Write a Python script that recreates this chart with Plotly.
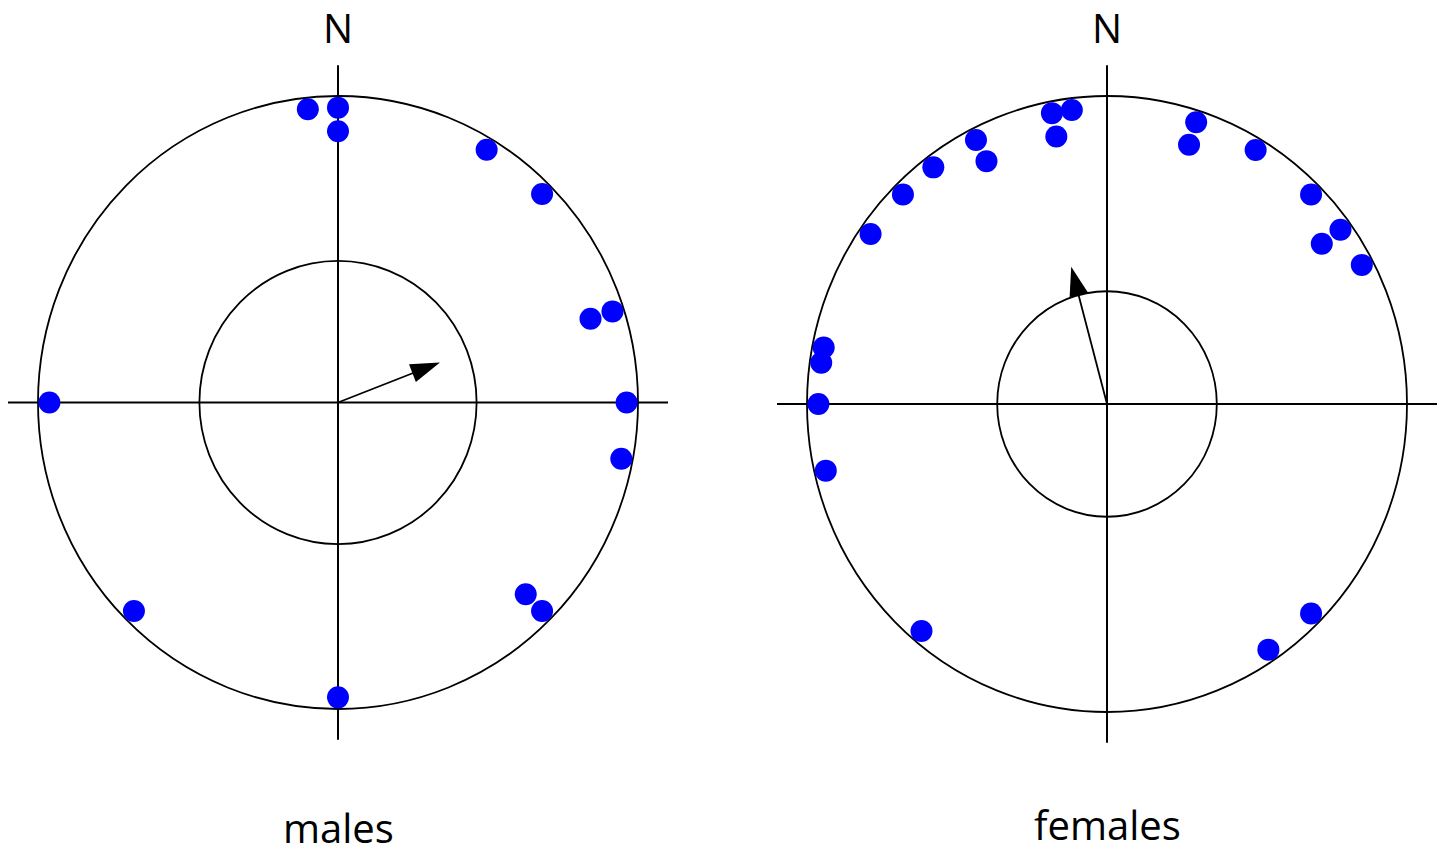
import numpy as np
import plotly.graph_objects as go

W, H = 1445, 856

# ---------------- data ----------------
panel_titles = ["males", "females"]
north_label = "N"

male_bearing = [354, 0, 0, 31, 45, 72, 72, 90, 101, 135, 135, 180, 225, 270]
male_radius = [0.962, 0.962, 0.885, 0.962, 0.962, 0.885, 0.962, 0.962, 0.962,
               0.885, 0.962, 0.962, 0.962, 0.962]
male_mean_bearing = 69
male_mean_length = 0.364
male_crit_radius = 0.462

female_bearing = [349, 353, 349, 333, 333, 323, 315, 305, 281, 278, 270, 257,
                  220, 146, 135, 62, 54, 54, 45, 31, 18, 18]
female_radius = [0.962, 0.962, 0.885, 0.962, 0.885, 0.962, 0.962, 0.962, 0.962,
                 0.962, 0.962, 0.962, 0.962, 0.962, 0.962, 0.962, 0.962, 0.885,
                 0.962, 0.962, 0.962, 0.885]
female_mean_bearing = 345
female_mean_length = 0.461
female_crit_radius = 0.366

outer_radius = 1.0
axis_extent = 1.1

# ---------------- layout geometry (pixels) ----------------
panels = [
    dict(cx=338, cy=402.5, sx=300, sy=306.5, xa="x", ya="y",
         bearing=male_bearing, radius=male_radius,
         mb=male_mean_bearing, ml=male_mean_length, crit=male_crit_radius),
    dict(cx=1107, cy=404, sx=300, sy=308, xa="x2", ya="y2",
         bearing=female_bearing, radius=female_radius,
         mb=female_mean_bearing, ml=female_mean_length, crit=female_crit_radius),
]
XR, YR = 1.12, 1.2

fig = go.Figure()
shapes = []
axes_layout = {}

for i, p in enumerate(panels):
    b = np.deg2rad(np.array(p["bearing"], dtype=float))
    r = np.array(p["radius"], dtype=float)
    fig.add_trace(go.Scatter(
        x=r * np.sin(b), y=r * np.cos(b), mode="markers",
        marker=dict(size=22, color="#0000FF", line=dict(width=0)),
        xaxis=p["xa"], yaxis=p["ya"], showlegend=False, hoverinfo="skip"))
    mb = np.deg2rad(p["mb"])
    tipx, tipy = p["ml"] * np.sin(mb), p["ml"] * np.cos(mb)
    fig.add_trace(go.Scatter(
        x=[0, tipx * 0.9], y=[0, tipy * 0.9], mode="lines",
        line=dict(color="black", width=1.8),
        xaxis=p["xa"], yaxis=p["ya"], showlegend=False, hoverinfo="skip"))
    fig.add_trace(go.Scatter(
        x=[tipx], y=[tipy], mode="markers",
        marker=dict(symbol="arrow", size=31, angle=p["mb"], color="black",
                    line=dict(width=0)),
        xaxis=p["xa"], yaxis=p["ya"], showlegend=False, hoverinfo="skip"))

    for rad in (outer_radius, p["crit"]):
        shapes.append(dict(type="circle", xref=p["xa"], yref=p["ya"],
                           x0=-rad, x1=rad, y0=-rad, y1=rad,
                           line=dict(color="black", width=1.8), layer="below"))
    shapes.append(dict(type="line", xref=p["xa"], yref=p["ya"],
                       x0=-axis_extent, x1=axis_extent, y0=0, y1=0,
                       line=dict(color="black", width=2), layer="below"))
    shapes.append(dict(type="line", xref=p["xa"], yref=p["ya"],
                       x0=0, x1=0, y0=-axis_extent, y1=axis_extent,
                       line=dict(color="black", width=2), layer="below"))

    xd = [max(0.0, (p["cx"] - XR * p["sx"]) / W), min(1.0, (p["cx"] + XR * p["sx"]) / W)]
    cyb = H - p["cy"]
    yd = [(cyb - YR * p["sy"]) / H, (cyb + YR * p["sy"]) / H]
    ax_common = dict(visible=False, showgrid=False, zeroline=False, fixedrange=True)
    suffix = "" if i == 0 else "2"
    axes_layout["xaxis" + suffix] = dict(domain=xd, range=[-XR, XR], anchor=p["ya"], **ax_common)
    axes_layout["yaxis" + suffix] = dict(domain=yd, range=[-YR, YR], anchor=p["xa"], **ax_common)

annotations = []
font = dict(family="Open Sans", size=40, color="black")
for p, title, ty in zip(panels, panel_titles, [827, 824]):
    annotations.append(dict(x=p["cx"] / W, y=1 - 28 / H,
                            xref="paper", yref="paper", borderpad=0,
                            text=north_label, showarrow=False, font=font,
                            xanchor="center", yanchor="middle"))
    annotations.append(dict(x=p["cx"] / W, y=1 - ty / H,
                            xref="paper", yref="paper", borderpad=0,
                            text=title, showarrow=False, font=font,
                            xanchor="center", yanchor="middle"))

fig.update_layout(width=W, height=H, margin=dict(l=0, r=0, t=0, b=0),
                  paper_bgcolor="white", plot_bgcolor="white",
                  shapes=shapes, annotations=annotations, **axes_layout)

fig.write_html("out.html", config=dict(displayModeBar=False),
               post_script="document.body.style.margin='0';")
